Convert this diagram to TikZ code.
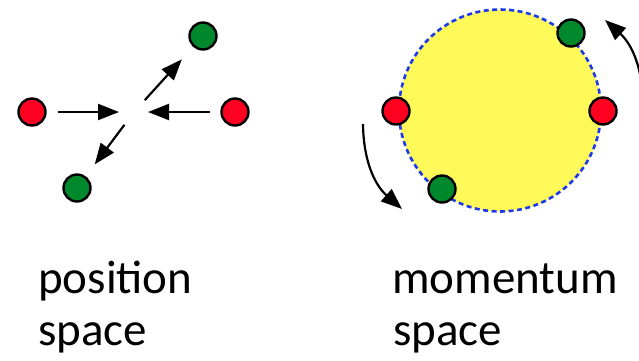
\documentclass[tikz,border=0pt]{standalone}
\usepackage{fontspec}
\setmainfont{Carlito}
\usepackage{xcolor}
\usepackage{tikz}
\usetikzlibrary{arrows.meta, positioning}

\definecolor{dotred}{RGB}{255,0,32}
\definecolor{dotgreen}{RGB}{0,136,44}
\definecolor{ballyellow}{RGB}{255,250,90}
\definecolor{rimblue}{RGB}{28,58,232}

\begin{document}
\begin{tikzpicture}[x=1pt, y=-1pt,
  particle/.style={circle, draw, line width=2.4pt, minimum size=27pt, inner sep=0pt, outer sep=0pt},
  rdot/.style={particle, fill=dotred},
  gdot/.style={particle, fill=dotgreen},
  flow/.style={-{Triangle[length=21pt,width=16pt]}, line width=2.2pt},
  words/.style={font=\fontsize{47}{52}\selectfont, inner sep=0pt, anchor=base west}]

  \useasboundingbox (0,0) rectangle (639,360);
  \clip (0,0) rectangle (639,360);

  % position space
  \coordinate (ctr) at (134,112);
  \node[rdot] (rL) at (32,112) {};
  \node[rdot] (rR) at (235,112) {};
  \node[gdot] (gT) at (203,36) {};
  \node[gdot] (gB) at (77,188) {};

  \draw[flow, shorten <=12pt, shorten >=15pt] (rL) -- (ctr);
  \draw[flow, shorten <=12pt, shorten >=14pt] (rR) -- (ctr);
  \draw[flow, shorten <=16pt, shorten >=18pt] (ctr) -- (gT);
  \draw[flow, shorten <=16pt, shorten >=16pt] (ctr) -- (gB);

  % momentum space
  \node[circle, minimum size=202pt, inner sep=0pt, fill=ballyellow, draw=rimblue,
        line width=2.6pt, dash pattern=on 5pt off 3.5pt] (ball) at (500,110.5) {};
  \node[rdot] (mL) at (396,111) {};
  \node[rdot] (mR) at (603,111) {};
  \node[gdot] (mT) at (571,33) {};
  \node[gdot] (mB) at (442,189) {};

  \coordinate (turnLs) at (363,124);
  \coordinate (turnLe) at (402,209);
  \coordinate (turnRs) at (643,105);
  \coordinate (turnRe) at (605,20);
  \draw[flow] (turnLs) to[bend right=24] (turnLe);
  \draw[flow] (turnRs) to[bend right=24] (turnRe);

  % labels
  \node[words] (posword) at (38,293) {position};
  \node[words] (posspace) at (38,345) {space};
  \node[words] (momword) at (392,293) {momentum};
  \node[words] (momspace) at (393,345) {space};
\end{tikzpicture}
\end{document}
